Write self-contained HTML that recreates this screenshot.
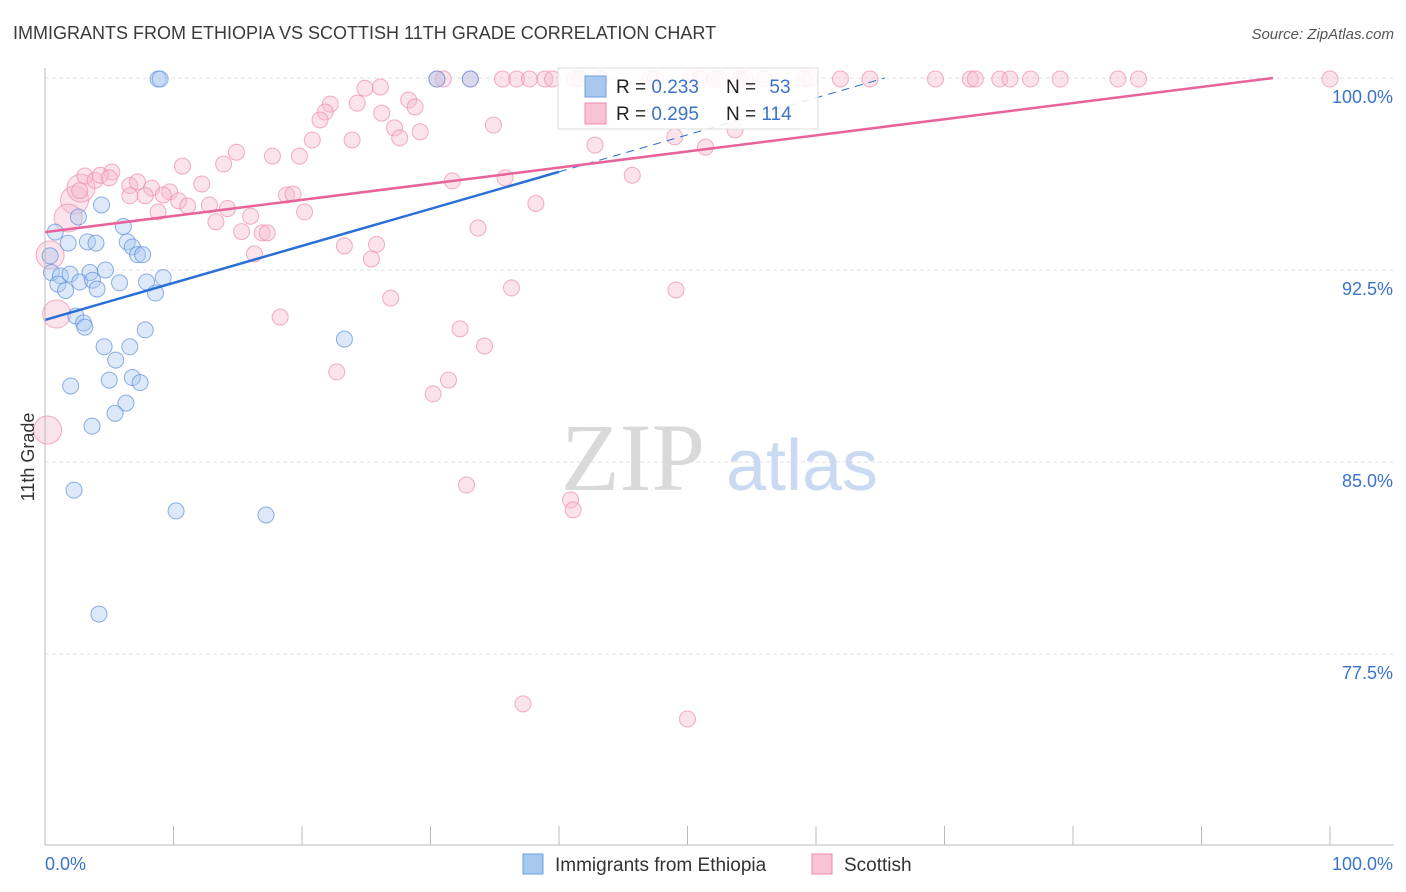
<!DOCTYPE html>
<html><head><meta charset="utf-8"><style>
body{margin:0;background:#fff;font-family:"Liberation Sans",sans-serif;}
svg{display:block}
</style></head><body>
<svg id="chart" width="1406" height="892" xmlns="http://www.w3.org/2000/svg">
<text x="13" y="39" font-size="18" fill="#3a3a3a" font-family="Liberation Sans, sans-serif">IMMIGRANTS FROM ETHIOPIA VS SCOTTISH 11TH GRADE CORRELATION CHART</text>
<text x="1394" y="39" font-size="15" fill="#555" text-anchor="end" font-style="italic">Source: ZipAtlas.com</text>
<g id="grid"></g>
<g>
<text x="633" y="490" font-size="96" fill="#d9d9d9" text-anchor="middle" font-family="Liberation Serif, serif">ZIP</text>
<text x="802" y="490" font-size="72" fill="#c9daf2" text-anchor="middle">atlas</text>
</g>
<g id="pts"></g>
<g id="lines"></g>
<g id="axes"></g>
<text transform="translate(34,457) rotate(-90)" font-size="18" fill="#333" text-anchor="middle">11th Grade</text>
<g>
<rect x="558" y="68" width="260" height="61" fill="#fff" fill-opacity="0.85" stroke="#ddd"/>
<rect x="585" y="76" width="21" height="21" fill="#a9c8f0" stroke="#6fa0e0"/>
<rect x="585" y="103" width="21" height="21" fill="#f8c4d5" stroke="#f08aab"/>
<text x="616" y="93" font-size="19" fill="#222">R = <tspan fill="#3b73c8">0.233</tspan></text>
<text x="726" y="93" font-size="19" fill="#222">N = <tspan fill="#3b73c8" dx="8">53</tspan></text>
<text x="616" y="120" font-size="19" fill="#222">R = <tspan fill="#3b73c8">0.295</tspan></text>
<text x="726" y="120" font-size="19" fill="#222">N = <tspan fill="#3b73c8">114</tspan></text>
</g>
<g>
<rect x="523" y="854" width="20" height="20" fill="#a9c8f0" stroke="#6fa0e0"/>
<text x="555" y="871" font-size="19" fill="#333">Immigrants from Ethiopia</text>
<rect x="812" y="854" width="20" height="20" fill="#f8c4d5" stroke="#f08aab"/>
<text x="844" y="871" font-size="19" fill="#333">Scottish</text>
</g>
</svg>
<script>
const yTicks=[77.5,85.0,92.5,100.0];
const yTickLabels=["77.5%","85.0%","92.5%","100.0%"];
const xTicks=[0,10,20,30,40,50,60,70,80,90,100];
const blueX=[8.8,8.96,30.5,33.1,0.8,4.4,2.6,6.1,1.8,3.3,3.97,6.4,6.8,7.2,7.6,0.4,0.5,1.2,1.95,3.5,4.7,1.0,1.6,2.7,3.7,4.05,5.8,7.9,9.2,8.6,2.4,3.0,3.1,7.8,4.6,6.6,5.5,23.3,5.0,6.8,7.4,2.0,6.3,5.45,3.66,2.26,10.2,17.2,4.2];
const blueY=[99.96,99.96,99.96,99.96,93.98,95.04,94.57,94.2,93.55,93.6,93.55,93.6,93.4,93.1,93.1,93.05,92.4,92.27,92.34,92.4,92.5,91.95,91.7,92.03,92.1,91.76,92.0,92.03,92.2,91.6,90.7,90.43,90.27,90.16,89.5,89.5,88.98,89.8,88.2,88.3,88.1,87.97,87.3,86.9,86.4,83.9,83.09,82.93,79.06];
const pinkX=[30.5,31.0,33.1,35.6,36.7,37.7,38.9,39.5,41.2,41.6,43.2,47.1,47.5,50.2,51.0,52.1,52.5,54.1,54.5,56.0,59.1,59.5,61.9,64.2,69.3,72.0,72.4,74.3,75.1,76.7,79.0,83.5,85.1,100,
24.9,24.3,26.1,28.3,28.8,22.2,21.8,21.4,26.2,27.2,29.2,27.6,34.9,23.9,20.8,19.8,17.7,14.9,13.9,10.7,42.8,49.0,51.4,53.7,45.7,35.8,31.7,38.2,33.7,3.1,3.9,5.2,6.6,7.2,8.3,9.7,9.2,12.2,6.6,7.8,10.4,11.1,12.8,14.2,8.8,16.0,13.3,15.3,16.9,17.3,18.8,19.3,20.2,23.3,25.8,25.4,16.3,26.9,18.3,36.3,49.1,32.3,34.2,22.7,31.4,30.2,32.8,40.9,41.1,37.2,50.0,2.7,4.3,5.0];
const pinkY=[99.96,99.96,99.96,99.96,99.96,99.96,99.96,99.96,99.96,99.96,99.96,99.96,99.96,99.96,99.96,99.96,99.96,99.96,99.96,99.96,99.96,99.96,99.96,99.96,99.96,99.96,99.96,99.96,99.96,99.96,99.96,99.96,99.96,99.96,
99.6,99.02,99.65,99.14,98.87,98.98,98.67,98.36,98.63,98.05,97.9,97.66,98.16,97.58,97.58,96.95,96.95,97.1,96.64,96.56,97.38,97.7,97.3,97.97,96.2,96.1,95.98,95.1,94.14,96.17,96.0,96.33,95.8,95.94,95.7,95.55,95.43,95.86,95.4,95.4,95.2,95.0,95.04,94.9,94.77,94.6,94.38,94.0,93.95,93.95,95.43,95.47,94.77,93.44,93.5,92.93,93.13,91.4,90.66,91.8,91.72,90.2,89.53,88.52,88.2,87.66,84.1,83.52,83.13,75.55,74.96,95.6,96.2,96.1];
const pinkBigX=[0.2,0.9,2.3,1.8,0.4,2.8];
const pinkBigY=[86.25,90.78,95.23,94.53,93.09,95.7];
const blueFit=[90.55,0.1446];
const pinkFit=[93.98,0.063];
const NS="http://www.w3.org/2000/svg";
const X0=45,X1=1330,Ytop=78,PX=25.6;
const sx=v=>X0+(X1-X0)*v/100;
const sy=v=>Ytop+(100-v)*PX;
function mk(t,a,p){const e=document.createElementNS(NS,t);for(const k in a)e.setAttribute(k,a[k]);p.appendChild(e);return e;}
const grid=document.getElementById('grid'),axes=document.getElementById('axes'),pts=document.getElementById('pts'),lines=document.getElementById('lines');
yTicks.forEach((t,i)=>{
 const l=mk('line',{x1:X0,x2:1394,y1:sy(t),y2:sy(t),stroke:'#e2e2e2','stroke-dasharray':'4,3'},grid);
 
 
 const tx=mk('text',{x:1393,y:sy(t)+25,'font-size':18,fill:'#3b73c8','text-anchor':'end'},axes);
 tx.textContent=yTickLabels[i];
 
 
});
mk('line',{x1:X0,x2:X0,y1:68,y2:845,stroke:'#bbb'},axes);
mk('line',{x1:X0,x2:1394,y1:845,y2:845,stroke:'#bbb'},axes);
xTicks.forEach(t=>{
 const l=mk('line',{x1:sx(t),x2:sx(t),y1:826,y2:845,stroke:'#bbb'},axes);
 
 
});
const xl0=mk('text',{x:45,y:870,'font-size':18,fill:'#3b73c8'},axes);xl0.textContent='0.0%';


const xl1=mk('text',{x:1393,y:870,'font-size':18,fill:'#3b73c8','text-anchor':'end'},axes);xl1.textContent='100.0%';


function dot(x,y,r,fill,stroke,name){
 const c=mk('circle',{cx:sx(x),cy:sy(y),r:r,fill:fill,'fill-opacity':0.4,stroke:stroke,'stroke-opacity':0.7,'stroke-width':1},pts);
 
 
}
pinkBigX.forEach((x,i)=>dot(x,pinkBigY[i],14,'#f6b8cc','#f08aab','scottish-point'));
pinkX.forEach((x,i)=>dot(x,pinkY[i],8,'#f6b8cc','#f08aab','scottish-point'));
blueX.forEach((x,i)=>dot(x,blueY[i],8,'#a9c8f0','#5b8fdc','ethiopia-point'));
const bxEnd=40,bxDash=(100-blueFit[0])/blueFit[1];
const bl=mk('line',{x1:sx(0),y1:sy(blueFit[0]),x2:sx(bxEnd),y2:sy(blueFit[0]+blueFit[1]*bxEnd),stroke:'#2a6fd6','stroke-width':2.5},lines);


const bd=mk('line',{x1:sx(bxEnd),y1:sy(blueFit[0]+blueFit[1]*bxEnd),x2:sx(bxDash),y2:sy(100),stroke:'#2a6fd6','stroke-width':1,'stroke-dasharray':'8,6'},lines);


const pxEnd=Math.min(100,(100-pinkFit[0])/pinkFit[1]);
const pl=mk('line',{x1:sx(0),y1:sy(pinkFit[0]),x2:sx(pxEnd),y2:sy(pinkFit[0]+pinkFit[1]*pxEnd),stroke:'#e8639a','stroke-width':2.5},lines);


</script>
</body></html>
